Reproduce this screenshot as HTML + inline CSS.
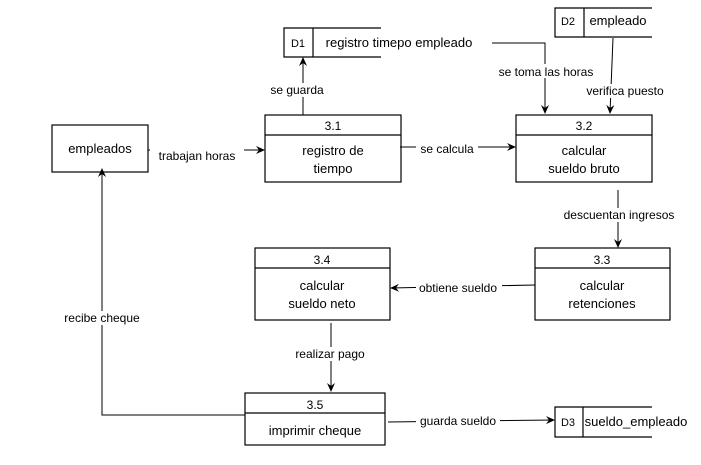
<!DOCTYPE html>
<html><head><meta charset="utf-8"><style>
body{margin:0;background:#fff}
svg{display:block}
text{font-family:"Liberation Sans",Arial,sans-serif;fill:#000}
</style></head><body>
<svg width="701" height="465" viewBox="0 0 701 465" xmlns="http://www.w3.org/2000/svg">
<defs><marker id="a" markerWidth="10" markerHeight="10" refX="8" refY="5" orient="auto" markerUnits="userSpaceOnUse"><path d="M0,1 L9,5 L0,9 L3,5 Z" fill="#000"/></marker></defs>
<g fill="none" stroke="#000" stroke-width="1.2">
<rect x="52" y="125" width="96" height="47"/>
<rect x="265" y="115" width="136" height="67"/><line x1="265" y1="135" x2="401" y2="135"/>
<rect x="516" y="115" width="136" height="67"/><line x1="516" y1="135" x2="652" y2="135"/>
<rect x="535" y="248" width="135" height="72"/><line x1="535" y1="268" x2="670" y2="268"/>
<rect x="255" y="248" width="135" height="72"/><line x1="255" y1="268" x2="390" y2="268"/>
<rect x="245" y="393" width="140" height="52"/><line x1="245" y1="413" x2="385" y2="413"/>
<path d="M381,28 H284 V57 H381 M313,28 V57"/>
<path d="M652,8 H555 V37 H652 M584,8 V37"/>
<path d="M652,407 H555 V437 H652 M583,407 V437"/>
</g>
<g fill="none" stroke="#000" stroke-width="1" marker-end="url(#a)">
<path d="M148,150 H264"/>
<path d="M303,115 V58"/>
<path d="M400,147 H515"/>
<path d="M492,43 H545 V113"/>
<path d="M613,38 L610,113"/>
<path d="M618,190 V247"/>
<path d="M535,285 L391,288"/>
<path d="M331,323 V391"/>
<path d="M245,415 H102 V169"/>
<path d="M388,422 L554,420"/>
</g>
<g font-size="13" text-anchor="middle">
<text x="100" y="153">empleados</text>
<text x="333" y="130" font-size="12">3.1</text>
<text x="333" y="155">registro de</text><text x="333" y="173">tiempo</text>
<text x="584" y="130" font-size="12">3.2</text>
<text x="584" y="155">calcular</text><text x="584" y="173">sueldo bruto</text>
<text x="602" y="264" font-size="12">3.3</text>
<text x="602" y="290">calcular</text><text x="602" y="308">retenciones</text>
<text x="322" y="264" font-size="12">3.4</text>
<text x="322" y="290">calcular</text><text x="322" y="308">sueldo neto</text>
<text x="315" y="409" font-size="12">3.5</text>
<text x="315" y="435">imprimir cheque</text>
</g>
<g font-size="11" text-anchor="middle">
<text x="298" y="47">D1</text><text x="399" y="47" font-size="13">registro timepo empleado</text>
<text x="568" y="25">D2</text><text x="618" y="25" font-size="13">empleado</text>
<text x="568" y="426">D3</text><text x="636" y="426" font-size="13">sueldo_empleado</text>
</g>
<g font-size="12" text-anchor="middle">
<rect x="150" y="149" width="94" height="14" fill="#fff"/><text x="197" y="160">trabajan horas</text>
<rect x="266" y="83" width="62" height="14" fill="#fff"/><text x="297" y="94">se guarda</text>
<rect x="416" y="142" width="62" height="14" fill="#fff"/><text x="447" y="153">se calcula</text>
<rect x="494" y="64" width="104" height="14" fill="#fff"/><text x="546" y="76">se toma las horas</text>
<rect x="570" y="84" width="110" height="14" fill="#fff"/><text x="625" y="95">verifica puesto</text>
<rect x="558" y="208" width="122" height="14" fill="#fff"/><text x="619" y="219">descuentan ingresos</text>
<rect x="416" y="281" width="86" height="14" fill="#fff"/><text x="458" y="292">obtiene sueldo</text>
<rect x="288" y="347" width="84" height="14" fill="#fff"/><text x="330" y="358">realizar pago</text>
<rect x="56" y="311" width="92" height="14" fill="#fff"/><text x="102" y="322">recibe cheque</text>
<rect x="416" y="414" width="84" height="14" fill="#fff"/><text x="458" y="425">guarda sueldo</text>
</g>
</svg>
</body></html>
